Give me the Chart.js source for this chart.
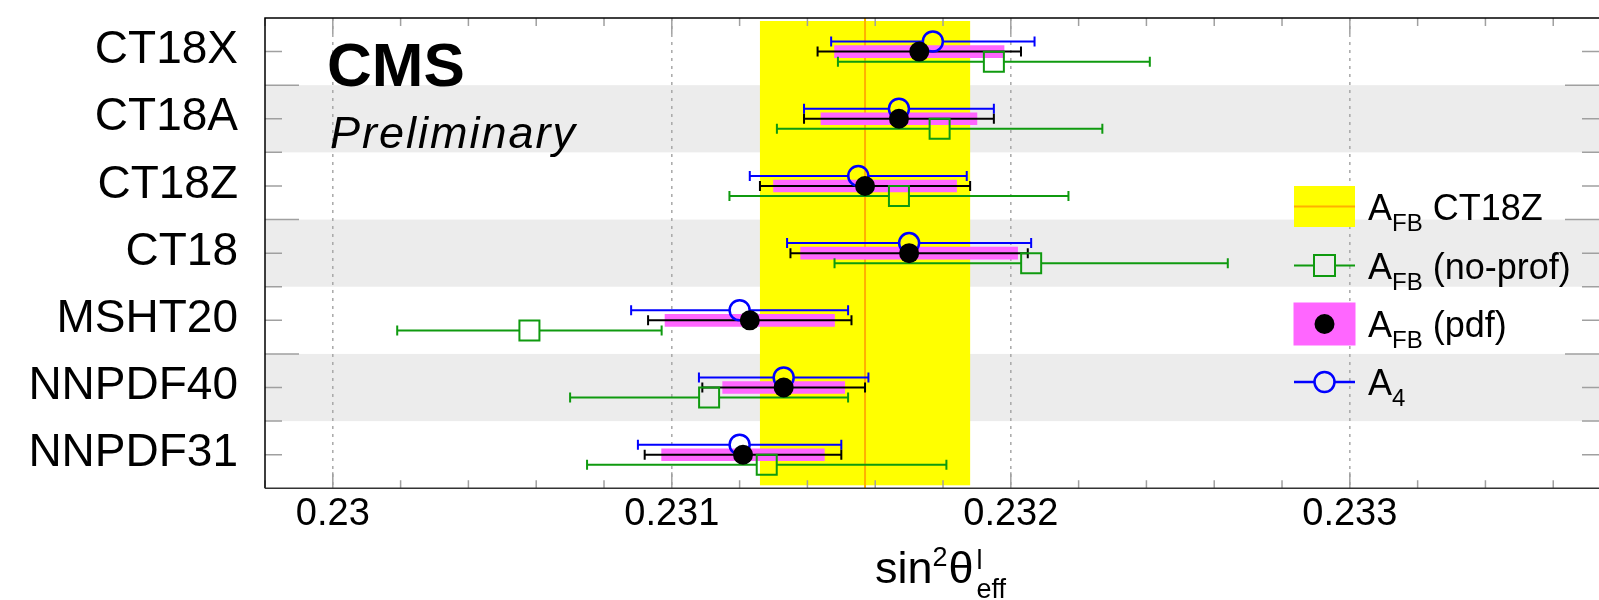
<!DOCTYPE html>
<html>
<head>
<meta charset="utf-8">
<title>sin2theta eff per PDF set</title>
<script src="https://cdn.jsdelivr.net/npm/chart.js@4.4.1/dist/chart.umd.min.js"></script>
<style>
  html, body { margin: 0; padding: 0; background: #fff; }
  #wrap { width: 1599px; height: 600px; }
</style>
</head>
<body>
<div id="wrap"><canvas id="sinChart" width="1599" height="600"></canvas></div>
<script>
// rows, top to bottom
const pdfSets = ['CT18X', 'CT18A', 'CT18Z', 'CT18', 'MSHT20', 'NNPDF40', 'NNPDF31'];

// A_FB with PDF profiling (black dot), total error and pdf part (magenta)
const afbValue  = [0.23173, 0.23167, 0.23157, 0.23170, 0.23123, 0.23133, 0.23121];
const afbTotErr = [0.00030, 0.00028, 0.00031, 0.00035, 0.00030, 0.00024, 0.00029];
const afbPdfErr = [0.00025, 0.00023, 0.00027, 0.00032, 0.00025, 0.00018, 0.00024];

// A_FB without profiling (green square)
const noProfValue = [0.23195, 0.23179, 0.23167, 0.23206, 0.23058, 0.23111, 0.23128];
const noProfErr   = [0.00046, 0.00048, 0.00050, 0.00058, 0.00039, 0.00041, 0.00053];

// A_4 (blue circle)
const a4Value = [0.23177, 0.23167, 0.23155, 0.23170, 0.23120, 0.23133, 0.23120];
const a4Err   = [0.00030, 0.00028, 0.00032, 0.00036, 0.00032, 0.00025, 0.00030];

const xTicks = [0.230, 0.231, 0.232, 0.233];
const refSet = 'CT18Z';

const FONT = '"Liberation Sans", Arial, Helvetica, sans-serif';
const BLUE = '#0000ff';
const GREEN = '#0f9a0f';
const MAGENTA = '#ff66ff';
const YELLOW = '#ffff00';
const ORANGE = '#ffb000';
const SHIFT = 0.15; // vertical split of the three results inside a row

function rowPoints(values, shift) {
  return values.map((v, i) => ({ x: v, y: i + shift }));
}

function errBar(ctx, xs, ys, val, err, yv, color, gap) {
  const py = ys.getPixelForValue(yv);
  const pc = xs.getPixelForValue(val);
  const pl = xs.getPixelForValue(val - err);
  const ph = xs.getPixelForValue(val + err);
  ctx.strokeStyle = color;
  ctx.lineWidth = 2;
  ctx.beginPath();
  if (pc - gap > pl) { ctx.moveTo(pl, py); ctx.lineTo(pc - gap, py); }
  if (pc + gap < ph) { ctx.moveTo(pc + gap, py); ctx.lineTo(ph, py); }
  ctx.moveTo(pl, py - 5); ctx.lineTo(pl, py + 5);
  ctx.moveTo(ph, py - 5); ctx.lineTo(ph, py + 5);
  ctx.stroke();
}

// text with sub/superscripts: parts = [[text, size, dy], ...]
function richText(ctx, x, y, parts, style) {
  let cx = x;
  parts.forEach(([t, size, dy]) => {
    ctx.font = (style || '') + ' ' + size + 'px ' + FONT;
    ctx.fillText(t, cx, y + dy);
    cx += ctx.measureText(t).width;
  });
  return cx;
}

function noPad(s) {
  s.paddingTop = 0; s.paddingBottom = 0; s.paddingLeft = 0; s.paddingRight = 0;
}

const decor = {
  id: 'decor',
  beforeDatasetsDraw(chart) {
    const { ctx, chartArea: a, scales: { x, y } } = chart;
    ctx.save();
    // alternating grey rows
    ctx.fillStyle = '#ececec';
    pdfSets.forEach((s, i) => {
      if (i % 2 === 1) {
        const t = y.getPixelForValue(i - 0.5);
        const b = y.getPixelForValue(i + 0.5);
        ctx.fillRect(a.left, t, a.right - a.left, b - t);
      }
    });
    // dotted grid
    ctx.strokeStyle = '#a8a8a8';
    ctx.lineWidth = 1.5;
    ctx.setLineDash([3, 5]);
    xTicks.forEach(v => {
      const px = x.getPixelForValue(v);
      ctx.beginPath(); ctx.moveTo(px, a.top); ctx.lineTo(px, a.bottom); ctx.stroke();
    });
    ctx.setLineDash([]);
    // reference band: A_FB CT18Z
    const r = pdfSets.indexOf(refSet);
    const lo = x.getPixelForValue(afbValue[r] - afbTotErr[r]);
    const hi = x.getPixelForValue(afbValue[r] + afbTotErr[r]);
    ctx.fillStyle = YELLOW;
    ctx.fillRect(lo, a.top + 3, hi - lo, a.bottom - a.top - 6);
    const c = x.getPixelForValue(afbValue[r]);
    ctx.strokeStyle = ORANGE;
    ctx.lineWidth = 2;
    ctx.beginPath(); ctx.moveTo(c, a.top); ctx.lineTo(c, a.bottom); ctx.stroke();
    ctx.restore();
  },
  afterDatasetDraw(chart, args) {
    if (args.index !== 0) return; // right after the magenta bands
    const { ctx, scales: { x, y } } = chart;
    ctx.save();
    pdfSets.forEach((s, i) => {
      errBar(ctx, x, y, a4Value[i], a4Err[i], i - SHIFT, BLUE, 10);
      errBar(ctx, x, y, afbValue[i], afbTotErr[i], i, '#000', 0);
      errBar(ctx, x, y, noProfValue[i], noProfErr[i], i + SHIFT, GREEN, 10);
    });
    ctx.restore();
  },
  afterDraw(chart) {
    const { ctx, chartArea: a, scales: { x, y } } = chart;
    ctx.save();

    // tick marks inside the frame
    ctx.strokeStyle = '#a0a0a0';
    ctx.lineWidth = 1.5;
    ctx.beginPath();
    const step = 0.0002;
    for (let k = Math.ceil(x.min / step - 1e-6); k * step <= x.max + 1e-9; k++) {
      const px = x.getPixelForValue(k * step);
      const len = k % 5 === 0 ? 16 : 8;
      ctx.moveTo(px, a.bottom); ctx.lineTo(px, a.bottom - len);
      ctx.moveTo(px, a.top); ctx.lineTo(px, a.top + len);
    }
    for (let v = y.min + 0.5; v < y.max; v += 0.5) {
      const py = y.getPixelForValue(v);
      const major = Math.abs(((y.max - v) % 2)) < 1e-6;
      const len = major ? 34 : 17;
      ctx.moveTo(a.left, py); ctx.lineTo(a.left + len, py);
      ctx.moveTo(a.right, py); ctx.lineTo(a.right - len, py);
    }
    ctx.stroke();

    // frame
    ctx.strokeStyle = '#000';
    ctx.lineWidth = 1.5;
    ctx.beginPath();
    ctx.moveTo(a.left, a.bottom); ctx.lineTo(a.left, a.top); ctx.lineTo(a.right, a.top);
    ctx.stroke();
    ctx.strokeStyle = '#333';
    ctx.beginPath(); ctx.moveTo(a.left, a.bottom); ctx.lineTo(a.right, a.bottom); ctx.stroke();

    // CMS Preliminary
    ctx.fillStyle = '#000';
    ctx.textBaseline = 'alphabetic';
    ctx.textAlign = 'left';
    ctx.font = 'bold 62px ' + FONT;
    ctx.fillText('CMS', a.left + 62, 86);
    ctx.font = 'italic 45px ' + FONT;
    if ('letterSpacing' in ctx) ctx.letterSpacing = '2px';
    ctx.fillText('Preliminary', a.left + 65, 148);
    if ('letterSpacing' in ctx) ctx.letterSpacing = '0px';

    // axis title sin^2 theta^l_eff
    let cx = richText(ctx, 875, 583, [['sin', 45, 0]]);
    cx = richText(ctx, cx, 583, [['2', 27, -17]]);
    cx = richText(ctx, cx + 1, 583, [['\u03b8', 45, 0]]);
    richText(ctx, cx + 3, 583, [['l', 27, -14]]);
    richText(ctx, cx + 3, 583, [['eff', 27, 15]]);

    // legend
    const lx = 1294, lw = 61, tx = 1368;
    const ly = [206.5, 265.5, 324, 382];
    // A_FB CT18Z band
    ctx.fillStyle = YELLOW;
    ctx.fillRect(lx, ly[0] - 20.5, lw, 41);
    ctx.strokeStyle = ORANGE; ctx.lineWidth = 2;
    ctx.beginPath(); ctx.moveTo(lx, ly[0]); ctx.lineTo(lx + lw, ly[0]); ctx.stroke();
    // no-prof
    ctx.strokeStyle = GREEN; ctx.lineWidth = 2;
    ctx.beginPath();
    ctx.moveTo(lx, ly[1]); ctx.lineTo(lx + 20, ly[1]);
    ctx.moveTo(lx + 41, ly[1]); ctx.lineTo(lx + lw, ly[1]);
    ctx.rect(lx + 20, ly[1] - 10.5, 21, 21);
    ctx.stroke();
    // pdf
    ctx.fillStyle = MAGENTA;
    ctx.fillRect(lx - 0.5, ly[2] - 21.5, lw + 1, 43);
    ctx.fillStyle = '#000';
    ctx.beginPath(); ctx.arc(lx + lw / 2, ly[2], 10, 0, Math.PI * 2); ctx.fill();
    // A4
    ctx.strokeStyle = BLUE; ctx.lineWidth = 2.5;
    ctx.beginPath();
    ctx.moveTo(lx, ly[3]); ctx.lineTo(lx + lw / 2 - 10, ly[3]);
    ctx.moveTo(lx + lw / 2 + 10, ly[3]); ctx.lineTo(lx + lw, ly[3]);
    ctx.stroke();
    ctx.beginPath(); ctx.arc(lx + lw / 2, ly[3], 10, 0, Math.PI * 2); ctx.stroke();

    ctx.fillStyle = '#000';
    const legendText = [' CT18Z', ' (no-prof)', ' (pdf)'];
    legendText.forEach((t, k) => {
      richText(ctx, tx, ly[k] + 13, [['A', 36, 0], ['FB', 24, 11], [t, 36, 0]]);
    });
    richText(ctx, tx, ly[3] + 13, [['A', 36, 0], ['4', 24, 11]]);

    ctx.restore();
  }
};

new Chart(document.getElementById('sinChart'), {
  type: 'scatter',
  data: {
    datasets: [
      {
        type: 'bar',
        label: 'A_FB (pdf) band',
        indexAxis: 'y',
        data: afbValue.map((v, i) => ({ x: [v - afbPdfErr[i], v + afbPdfErr[i]], y: i })),
        backgroundColor: MAGENTA,
        borderWidth: 0,
        barThickness: 12,
        order: 4
      },
      {
        label: 'A_FB (no-prof)',
        data: rowPoints(noProfValue, SHIFT),
        pointStyle: 'rect',
        pointRadius: 14.15,
        borderColor: GREEN,
        borderWidth: 2,
        backgroundColor: 'rgba(0,0,0,0)',
        order: 3
      },
      {
        label: 'A_4',
        data: rowPoints(a4Value, -SHIFT),
        pointStyle: 'circle',
        pointRadius: 10,
        borderColor: BLUE,
        borderWidth: 2.5,
        backgroundColor: 'rgba(0,0,0,0)',
        order: 2
      },
      {
        label: 'A_FB (pdf)',
        data: rowPoints(afbValue, 0),
        pointStyle: 'circle',
        pointRadius: 10,
        borderWidth: 0,
        backgroundColor: '#000',
        order: 1
      }
    ]
  },
  options: {
    responsive: false,
    animation: false,
    events: [],
    layout: { autoPadding: false, padding: { top: 18, right: 0, bottom: 0, left: 0 } },
    plugins: {
      legend: { display: false },
      tooltip: { enabled: false }
    },
    scales: {
      x: {
        type: 'linear',
        min: 0.2298,
        max: 0.233735,
        beginAtZero: false,
        offset: false,
        grid: { display: false, drawTicks: false },
        border: { display: false },
        afterBuildTicks: s => { s.ticks = xTicks.map(v => ({ value: v })); },
        afterFit: s => { s.height = 111.7; noPad(s); },
        ticks: {
          autoSkip: false,
          maxRotation: 0,
          padding: 3,
          color: '#000',
          font: { family: FONT, size: 38 },
          callback: v => String(v)
        }
      },
      y: {
        type: 'linear',
        reverse: true,
        min: -0.5,
        max: 6.5,
        offset: false,
        beginAtZero: false,
        grid: { display: false, drawTicks: false },
        border: { display: false },
        afterBuildTicks: s => { s.ticks = pdfSets.map((_, i) => ({ value: i })); },
        afterFit: s => { s.width = 265; noPad(s); },
        ticks: {
          autoSkip: false,
          padding: 27,
          labelOffset: -1,
          color: '#000',
          font: { family: FONT, size: 46 },
          callback: v => pdfSets[v]
        }
      }
    }
  },
  plugins: [decor]
});
</script>
</body>
</html>
